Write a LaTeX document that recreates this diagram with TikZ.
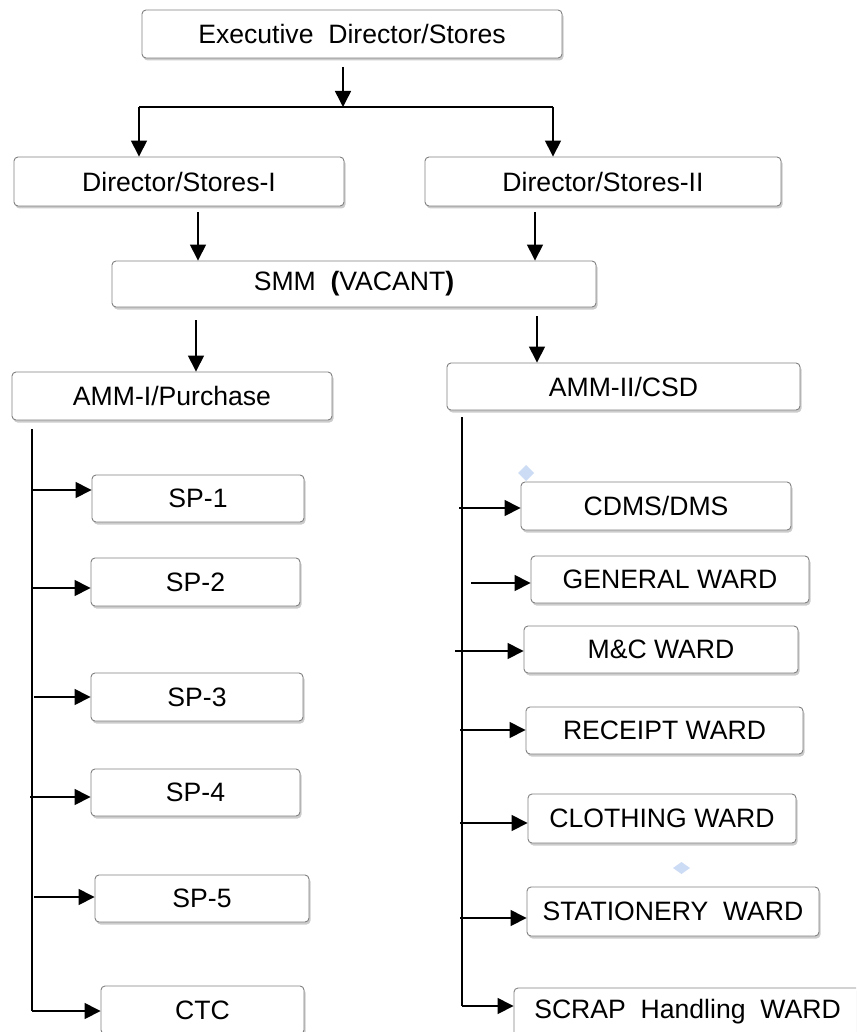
\documentclass[tikz,border=0pt]{standalone}
\usepackage{fontspec}
\setmainfont{Liberation Sans}
\usetikzlibrary{arrows.meta,shadows}
\definecolor{markblue}{RGB}{205,220,245}
\begin{document}
\begin{tikzpicture}[x=1pt,y=-1pt,
  box/.style={draw=black!50, line width=0.9pt, rounded corners=4pt, fill=white,
    inner sep=0pt, font=\fontsize{26.6}{30}\selectfont,
    drop shadow={shadow xshift=1.5pt, shadow yshift=-2.5pt, fill=black!40}},
  arr/.style={line width=1.5pt, -{Triangle[length=16pt,width=16pt]}},
  ln/.style={line width=1.5pt},
  bluemark/.style={fill=markblue, draw=none}
]
\useasboundingbox (0,0) rectangle (856,1032);
\clip (0,0) rectangle (856,1032);

% boxes
\node[box, minimum width=420, minimum height=48] (ed)   at (352,34)    {Executive\ \ Director/Stores};
\node[box, minimum width=330, minimum height=49] (ds1)  at (179,181.5) {Director/Stores-I};
\node[box, minimum width=356, minimum height=49] (ds2)  at (603,181.5) {Director/Stores-II};
\node[box, minimum width=484, minimum height=46] (smm)  at (354,284)   {SMM\ \ \textbf{(}VACANT\textbf{)}};
\node[box, minimum width=320, minimum height=48] (amm1) at (172,396)   {AMM-I/Purchase};
\node[box, minimum width=353, minimum height=47] (amm2) at (623.5,386.5) {AMM-II/CSD};

\node[box, minimum width=212, minimum height=47] (sp1) at (198,498.5) {SP-1};
\node[box, minimum width=209, minimum height=48] (sp2) at (195.5,582) {SP-2};
\node[box, minimum width=212, minimum height=48] (sp3) at (197,697)   {SP-3};
\node[box, minimum width=209, minimum height=47] (sp4) at (195.5,792.5) {SP-4};
\node[box, minimum width=214, minimum height=47] (sp5) at (202,898.5) {SP-5};
\node[box, minimum width=203, minimum height=48] (ctc) at (202.5,1010) {CTC};

\node[box, minimum width=270, minimum height=48] (cdms) at (656,506)   {CDMS/DMS};
\node[box, minimum width=278, minimum height=47] (gen)  at (670,579.5) {GENERAL WARD};
\node[box, minimum width=274, minimum height=47] (mc)   at (661,649.5) {M\&C WARD};
\node[box, minimum width=277, minimum height=47] (rec)  at (664.5,730.5) {RECEIPT WARD};
\node[box, minimum width=268, minimum height=49] (clo)  at (662,818.5) {CLOTHING WARD};
\node[box, minimum width=292, minimum height=49] (sta)  at (673,911.5) {STATIONERY\ \ WARD};
\node[box, minimum width=347, minimum height=48] (scr)  at (687.5,1012) {SCRAP\ \ Handling\ \ WARD};

% small markers
\fill[bluemark] (526,465) -- (534,473) -- (526,481) -- (518,473) -- cycle;
\fill[bluemark] (681.5,862) -- (690,868) -- (681.5,874) -- (673,868) -- cycle;

% top connectors
\coordinate (t0) at (343,67);
\coordinate (bar) at (343,107);
\coordinate (barL) at (139,107);
\coordinate (barR) at (553,107);
\draw[arr] (t0) -- (bar);
\draw[ln] (barL) -- (barR);
\draw[arr] (barL) -- (barL |- ds1.north);
\draw[arr] (barR) -- (barR |- ds2.north);

\coordinate (k1) at (198,212);
\coordinate (k2) at (535,212);
\draw[arr] (k1) -- (k1 |- smm.north);
\draw[arr] (k2) -- (k2 |- smm.north);
\coordinate (k3) at (196,320);
\coordinate (k4) at (537,316);
\draw[arr] (k3) -- (k3 |- amm1.north);
\draw[arr] (k4) -- (k4 |- amm2.north);

% left trunk
\coordinate (lt0) at (32,429);
\coordinate (lt1) at (32,1011);
\draw[ln] (lt0) -- (lt1);
\coordinate (a1) at (33,490);
\coordinate (a2) at (33,588);
\coordinate (a3) at (34,697);
\coordinate (a4) at (30,797);
\coordinate (a5) at (34,897);
\coordinate (a6) at (32,1011);
\draw[arr] (a1) -- (a1 -| sp1.west);
\draw[arr] (a2) -- (a2 -| sp2.west);
\draw[arr] (a3) -- (a3 -| sp3.west);
\draw[arr] (a4) -- (a4 -| sp4.west);
\draw[arr] (a5) -- (a5 -| sp5.west);
\draw[arr] (a6) -- (a6 -| ctc.west);

% right trunk
\coordinate (rt0) at (462,417);
\coordinate (rt1) at (462,1006);
\draw[ln] (rt0) -- (rt1);
\coordinate (b1) at (459,508);
\coordinate (b2) at (471,583);
\coordinate (b3) at (455,651);
\coordinate (b4) at (460,730);
\coordinate (b5) at (460,823);
\coordinate (b6) at (460,918);
\coordinate (b7) at (462,1006);
\draw[arr] (b1) -- (b1 -| cdms.west);
\draw[arr] (b2) -- (b2 -| gen.west);
\draw[arr] (b3) -- (b3 -| mc.west);
\draw[arr] (b4) -- (b4 -| rec.west);
\draw[arr] (b5) -- (b5 -| clo.west);
\draw[arr] (b6) -- (b6 -| sta.west);
\draw[arr] (b7) -- (b7 -| scr.west);
\end{tikzpicture}
\end{document}
